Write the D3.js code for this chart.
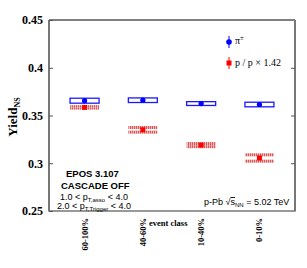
<!DOCTYPE html>
<html>
<head>
<meta charset="utf-8">
<script src="https://cdn.jsdelivr.net/npm/d3@7"></script>
<style>
  body { margin: 0; background: #fff; }
  svg { display: block; }
</style>
</head>
<body>
<script>
// Chart data
const classes = ['60-100%', '40-60%', '10-40%', '0-10%'];
const pionYield = [0.3655, 0.3660, 0.3625, 0.3615];
const pionSys = [0.0026, 0.0024, 0.0020, 0.0024];
const protonYield = [0.3585, 0.3350, 0.3190, 0.3055];
const protonSys = [0.0023, 0.0040, 0.0032, 0.0049];
const yTicks = [0.25, 0.3, 0.35, 0.4, 0.45];

const width = 307;
const height = 268;
const plotL = 49, plotR = 295, plotT = 20, plotB = 211;

const svg = d3.select('body').append('svg')
  .attr('width', width)
  .attr('height', height);

// hatch pattern for the proton boxes
const defs = svg.append('defs');
const pat = defs.append('pattern')
  .attr('id', 'hatch')
  .attr('patternUnits', 'userSpaceOnUse')
  .attr('width', 2).attr('height', 4);
pat.append('rect').attr('width', 2).attr('height', 4).attr('fill', '#f3b3b3');
pat.append('rect').attr('width', 1).attr('height', 4).attr('fill', '#d85a5a');

// Scales
const x = d3.scalePoint().domain(classes).range([plotL, plotR]).padding(0.61);
const y = d3.scaleLinear().domain([0.25, 0.45]).range([plotB, plotT]);

// Frame
svg.append('line').attr('x1', plotL).attr('x2', plotR).attr('y1', plotT).attr('y2', plotT)
  .attr('stroke', '#000').attr('stroke-width', 1);
svg.append('line').attr('x1', plotL).attr('x2', plotR).attr('y1', plotB).attr('y2', plotB)
  .attr('stroke', '#777').attr('stroke-width', 1.5);
svg.append('line').attr('x1', plotL).attr('x2', plotL).attr('y1', plotT).attr('y2', plotB + 0.5)
  .attr('stroke', '#777').attr('stroke-width', 2);
svg.append('line').attr('x1', plotR).attr('x2', plotR).attr('y1', plotT).attr('y2', plotB + 0.5)
  .attr('stroke', '#777').attr('stroke-width', 2);

// Y axis ticks + labels
const yAxisL = d3.axisLeft(y).tickValues(yTicks).tickSize(-4).tickPadding(6)
  .tickFormat(d => String(+d.toFixed(2)));
const gy = svg.append('g').attr('transform', `translate(${plotL},0)`).call(yAxisL);
gy.select('.domain').remove();
gy.selectAll('line').attr('stroke', '#555');
gy.selectAll('text')
  .attr('font-family', 'Liberation Serif, serif')
  .attr('font-weight', 'bold')
  .attr('font-size', 12)
  .attr('fill', '#000');

const yAxisR = d3.axisRight(y).tickValues(yTicks.slice(1, 4)).tickSize(-4).tickFormat('');
const gyr = svg.append('g').attr('transform', `translate(${plotR},0)`).call(yAxisR);
gyr.select('.domain').remove();
gyr.selectAll('line').attr('stroke', '#555');

// Y title
svg.append('text')
  .attr('transform', 'translate(17,117) rotate(-90)')
  .attr('text-anchor', 'middle')
  .attr('font-family', 'Liberation Serif, serif')
  .attr('font-weight', 'bold')
  .attr('font-size', 13)
  .text('Yield')
  .append('tspan').attr('dy', 3).attr('font-size', 8).text('NS');

// X category labels (rotated)
const xl = svg.append('g');
xl.selectAll('text.cat')
  .data(classes)
  .join('text')
  .attr('class', 'cat')
  .attr('transform', d => `translate(${x(d) + 3},218) rotate(-90)`)
  .attr('text-anchor', 'end')
  .attr('font-family', 'Liberation Serif, serif')
  .attr('font-weight', 'bold')
  .attr('font-size', 8.5)
  .text(d => d);

svg.append('text')
  .attr('x', 149).attr('y', 226)
  .attr('font-family', 'Liberation Serif, serif')
  .attr('font-weight', 'bold')
  .attr('font-size', 8.5)
  .text('event class');

// Boxes: pion (blue, hollow)
const boxW = 29;
const strip = 3;
svg.append('g').selectAll('rect')
  .data(classes)
  .join('rect')
  .attr('x', d => x(d) - boxW / 2)
  .attr('y', (d, i) => y(pionYield[i] + pionSys[i]))
  .attr('width', boxW)
  .attr('height', (d, i) => y(pionYield[i] - pionSys[i]) - y(pionYield[i] + pionSys[i]))
  .attr('fill', 'none')
  .attr('stroke', '#1a1aff')
  .attr('stroke-width', 1.3);

// Boxes: proton (red hatched, top and bottom strips)
const pg = svg.append('g');
classes.forEach((c, i) => {
  const y0 = y(protonYield[i] + protonSys[i]);
  const y1 = y(protonYield[i] - protonSys[i]);
  const h = Math.min(strip, (y1 - y0) / 2);
  pg.append('rect').attr('x', x(c) - boxW / 2).attr('y', y0)
    .attr('width', boxW).attr('height', h).attr('fill', 'url(#hatch)');
  pg.append('rect').attr('x', x(c) - boxW / 2).attr('y', y1 - h)
    .attr('width', boxW).attr('height', h).attr('fill', 'url(#hatch)');
});

// Markers
svg.append('g').selectAll('circle')
  .data(classes)
  .join('circle')
  .attr('cx', d => x(d))
  .attr('cy', (d, i) => y(pionYield[i]))
  .attr('r', 2.6)
  .attr('fill', '#0000ff');

svg.append('g').selectAll('rect')
  .data(classes)
  .join('rect')
  .attr('x', d => x(d) - 2.5)
  .attr('y', (d, i) => y(protonYield[i]) - 2.5)
  .attr('width', 5).attr('height', 5)
  .attr('fill', '#ff0000');

// Legend
const leg = svg.append('g').attr('font-family', 'Liberation Serif, serif').attr('font-size', 10);
leg.append('line').attr('x1', 229).attr('x2', 229).attr('y1', 36).attr('y2', 48)
  .attr('stroke', '#0000ff').attr('stroke-width', 1);
leg.append('circle').attr('cx', 229).attr('cy', 42).attr('r', 2.8).attr('fill', '#0000ff');
leg.append('text').attr('x', 235).attr('y', 44).text('π')
  .append('tspan').attr('dy', -4).attr('font-size', 7).text('±');
leg.append('line').attr('x1', 229).attr('x2', 229).attr('y1', 57).attr('y2', 69)
  .attr('stroke', '#ff0000').attr('stroke-width', 1);
leg.append('rect').attr('x', 226.5).attr('y', 60.5).attr('width', 5).attr('height', 5).attr('fill', '#ff0000');
leg.append('text').attr('x', 235).attr('y', 66).text('p / p × 1.42');

// Annotations
const ann = svg.append('g').attr('font-family', 'Liberation Sans, Arial, sans-serif').attr('fill', '#000');
ann.append('text').attr('x', 66).attr('y', 177).attr('font-size', 9.5).attr('font-weight', 'bold').text('EPOS 3.107');
ann.append('text').attr('x', 61).attr('y', 189).attr('font-size', 9.5).attr('font-weight', 'bold').text('CASCADE OFF');
const t1 = ann.append('text').attr('x', 60).attr('y', 200).attr('font-size', 9);
t1.append('tspan').text('1.0 < p');
t1.append('tspan').attr('dy', 2).attr('font-size', 6).text('T,asso');
t1.append('tspan').attr('dy', -2).text(' < 4.0');
const t2 = ann.append('text').attr('x', 57).attr('y', 209).attr('font-size', 9);
t2.append('tspan').text('2.0 < p');
t2.append('tspan').attr('dy', 2).attr('font-size', 6).text('T,Trigger');
t2.append('tspan').attr('dy', -2).text(' < 4.0');

const t3 = ann.append('text').attr('x', 204).attr('y', 205).attr('font-size', 9);
t3.append('tspan').text('p-Pb  √');
t3.append('tspan').attr('text-decoration', 'overline').text('s');
t3.append('tspan').attr('dy', 2).attr('font-size', 6).text('NN');
t3.append('tspan').attr('dy', -2).text(' = 5.02 TeV');
</script>
</body>
</html>
